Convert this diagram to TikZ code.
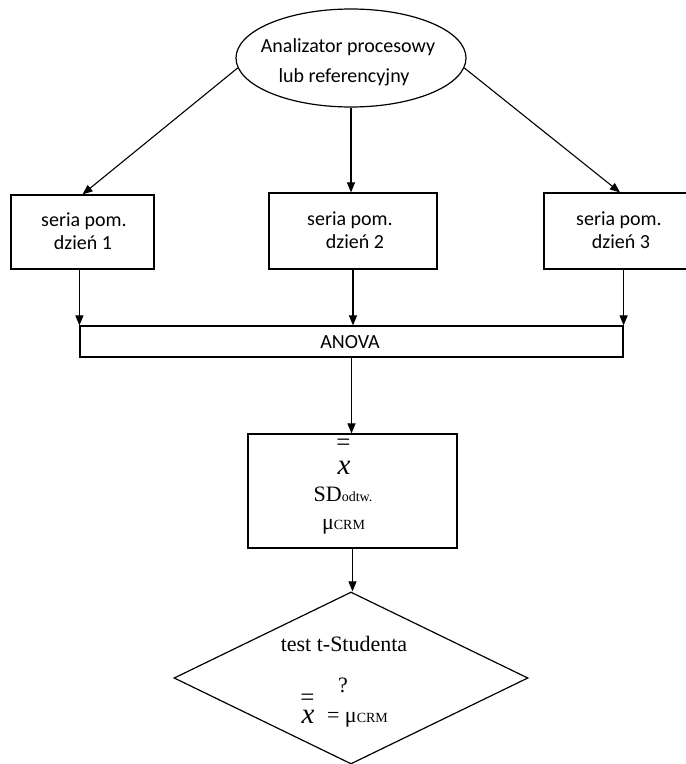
\documentclass[tikz,border=0pt]{standalone}
\usepackage{fontspec}
\setmainfont{Liberation Serif}
\newfontfamily\carlitofont{Carlito}
\usetikzlibrary{shapes.geometric,arrows.meta}
\begin{document}
\begin{tikzpicture}[x=1pt,y=-1pt,
  shp/.style={draw, line width=1.2pt, inner sep=0pt},
  arr/.style={line width=1.1pt, -{Triangle[length=10pt,width=8pt]}},
  sans/.style={font=\carlitofont\fontsize{20}{24}\selectfont, anchor=base, inner sep=0pt},
  ser/.style={font=\fontsize{22}{26}\selectfont, anchor=base, inner sep=0pt},
  bigeq/.style={font=\fontsize{25}{28}\selectfont, anchor=base, inner sep=0pt},
  bigx/.style={font=\itshape\fontsize{29}{32}\selectfont, anchor=base, inner sep=0pt},
]
\useasboundingbox[fill=white] (0,0) rectangle (686,764);
\clip (0,0) rectangle (686,764);

% source ellipse
\node[shp, ellipse, minimum width=230, minimum height=98] (src) at (351,58) {};
\node[sans] (srcA) at (348,52) {Analizator procesowy};
\node[sans] (srcB) at (344,82) {lub referencyjny};

% series boxes
\node[shp, rectangle, minimum width=143, minimum height=74] (b1) at (82.5,232) {};
\node[sans] (b1a) at (84,226) {seria pom.};
\node[sans] (b1b) at (83,249) {dzień 1};

\node[shp, rectangle, minimum width=168, minimum height=76] (b2) at (353,231) {};
\node[sans] (b2a) at (350,225) {seria pom.};
\node[sans] (b2b) at (355,248) {dzień 2};

\node[shp, rectangle, minimum width=152, minimum height=76] (b3) at (620,231) {};
\node[sans] (b3a) at (619,225) {seria pom.};
\node[sans] (b3b) at (621,248) {dzień 3};

% ANOVA bar
\node[shp, rectangle, minimum width=543, minimum height=31] (anova) at (351.5,341.5) {};
\node[sans] (anovat) at (350,348.5) {ANOVA};

% result box
\node[shp, rectangle, minimum width=209, minimum height=114] (res) at (352.5,491) {};
\node[bigeq] (resEq) at (343.5,450) {=};
\node[bigx] (resX) at (344,474) {x};
\node[ser] (resSD) at (343,501) {SD{\fontsize{14}{14}\selectfont odtw.}};
\node[ser] (resMu) at (343.5,529) {μ{\fontsize{14}{14}\selectfont CRM}};

% decision diamond
\node[shp, diamond, minimum width=354, minimum height=172] (dia) at (351,678) {};
\node[ser] (diaA) at (344,651) {test t-Studenta};
\node[ser] (diaQ) at (343,692) {?};
\node[bigeq] (diaEq) at (307.5,705) {=};
\node[bigx] (diaX) at (308,723) {x};
\node[ser] (diaR) at (357.5,722) {= μ{\fontsize{14}{14}\selectfont CRM}};

% connectors
\draw[arr] (src.185) -- (b1.north);
\draw[arr] (src.south) -- (src.south |- b2.north);
\draw[arr] (src.-5) -- (b3.north);
\draw[arr] (anova.north west |- b1.south) -- (anova.north west);
\draw[arr] (b2.south) -- (b2.south |- anova.north);
\draw[arr] (anova.north east |- b3.south) -- (anova.north east);
\draw[arr] (anova.south) -- (anova.south |- res.north);
\draw[arr] (res.south) -- (res.south |- dia.north);
\end{tikzpicture}
\end{document}
